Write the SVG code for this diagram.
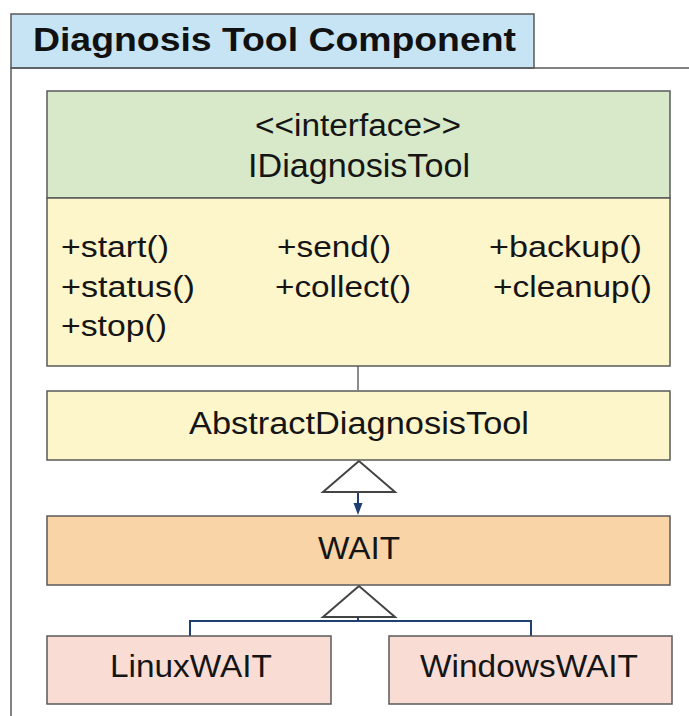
<svg xmlns="http://www.w3.org/2000/svg" width="689" height="716" viewBox="0 0 689 716">
  <defs>
    <style>
      .frame { fill: none; stroke: #5a5a5a; stroke-width: 1.5; }
      .tab { fill: #c6e4f3; stroke: #5a5a5a; stroke-width: 1.5; }
      .box { stroke: #5a5a5a; stroke-width: 1.5; }
      .lbl { font-family: "Liberation Sans", Arial, sans-serif; font-size: 31px; fill: #151515; }
      .mth { font-family: "Liberation Sans", Arial, sans-serif; font-size: 29px; fill: #151515; }
      .title { font-family: "Liberation Sans", Arial, sans-serif; font-size: 33px; font-weight: bold; fill: #111; }
      .gen { fill: #ffffff; stroke: #444; stroke-width: 2; stroke-linejoin: miter; }
      .link { fill: none; stroke: #1f3f73; stroke-width: 2; }
      .plain { fill: none; stroke: #666; stroke-width: 1.5; }
    </style>
  </defs>

  <rect width="689" height="716" fill="#ffffff"/>

  <!-- package frame with title tab -->
  <g id="package">
    <rect x="11" y="14" width="523" height="54" class="tab"/>
    <path d="M689,68 H11 V716" class="frame"/>
    <text x="33" y="51" class="title" textLength="483" lengthAdjust="spacingAndGlyphs">Diagnosis Tool Component</text>
  </g>

  <!-- connectors -->
  <g id="connectors">
    <line x1="358" y1="366" x2="358" y2="390" class="plain"/>
    <polygon points="359,461 323,492 395,492" class="gen"/>
    <line x1="358" y1="493" x2="358" y2="504" class="link"/>
    <path d="M353.5,503 L362.5,503 L358,515 Z" fill="#1f3f73"/>
    <polygon points="359,586 323,617 395,617" class="gen"/>
    <path d="M358,617 V621 M190,636 V621 H531 V636" class="link"/>
  </g>

  <g id="IDiagnosisTool">
    <rect x="47" y="91" width="623" height="107" fill="#d7e9c8" class="box"/>
    <rect x="47" y="198" width="623" height="168" fill="#fdf6cb" class="box"/>
    <text x="358" y="136" class="lbl" text-anchor="middle" textLength="206" lengthAdjust="spacingAndGlyphs">&lt;&lt;interface&gt;&gt;</text>
    <text x="359" y="177" class="lbl" style="font-size:34px" text-anchor="middle" textLength="222" lengthAdjust="spacingAndGlyphs">IDiagnosisTool</text>
    <text x="61" y="257" class="mth" textLength="108" lengthAdjust="spacingAndGlyphs">+start()</text>
    <text x="277" y="257" class="mth" textLength="114" lengthAdjust="spacingAndGlyphs">+send()</text>
    <text x="489" y="257" class="mth" textLength="153" lengthAdjust="spacingAndGlyphs">+backup()</text>
    <text x="61" y="297" class="mth" textLength="134" lengthAdjust="spacingAndGlyphs">+status()</text>
    <text x="275" y="297" class="mth" textLength="136" lengthAdjust="spacingAndGlyphs">+collect()</text>
    <text x="493" y="297" class="mth" textLength="159" lengthAdjust="spacingAndGlyphs">+cleanup()</text>
    <text x="61" y="336" class="mth" textLength="106" lengthAdjust="spacingAndGlyphs">+stop()</text>
  </g>

  <g id="AbstractDiagnosisTool">
    <rect x="47" y="391" width="623" height="69" fill="#fdf6cb" class="box"/>
    <text x="359" y="434" class="lbl" text-anchor="middle" textLength="340" lengthAdjust="spacingAndGlyphs">AbstractDiagnosisTool</text>
  </g>

  <g id="WAIT">
    <rect x="47" y="516" width="623" height="69" fill="#f9d4a6" class="box"/>
    <text x="359" y="559" class="lbl" text-anchor="middle" textLength="82" lengthAdjust="spacingAndGlyphs">WAIT</text>
  </g>

  <g id="LinuxWAIT">
    <rect x="47" y="636" width="284" height="68" fill="#f9ddd5" class="box"/>
    <text x="191" y="677" class="lbl" text-anchor="middle" textLength="162" lengthAdjust="spacingAndGlyphs">LinuxWAIT</text>
  </g>

  <g id="WindowsWAIT">
    <rect x="389" y="636" width="283" height="68" fill="#f9ddd5" class="box"/>
    <text x="529" y="677" class="lbl" text-anchor="middle" textLength="218" lengthAdjust="spacingAndGlyphs">WindowsWAIT</text>
  </g>
</svg>
